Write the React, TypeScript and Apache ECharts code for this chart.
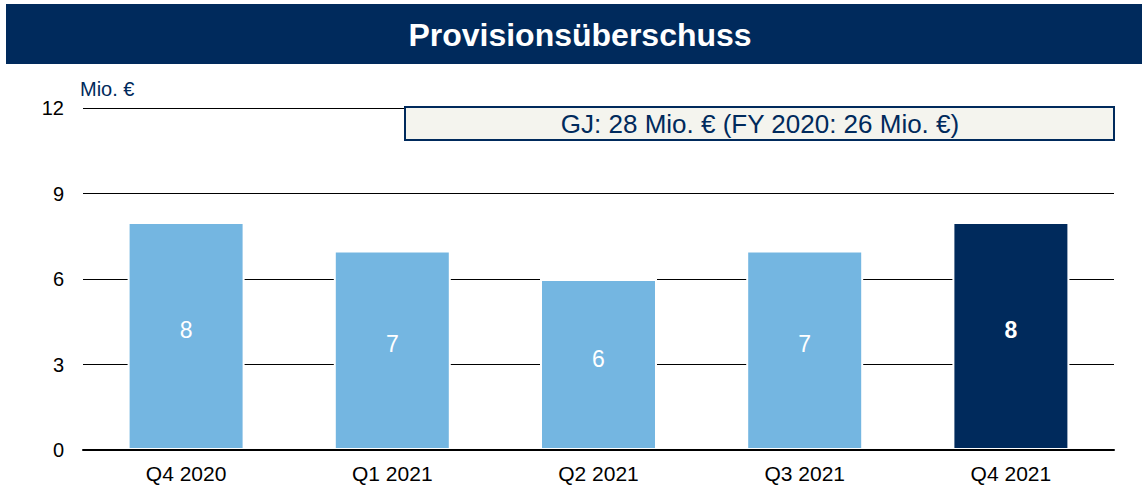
import React, { useEffect, useRef } from "react";
import * as echarts from "echarts";

const categories = ["Q4 2020", "Q1 2021", "Q2 2021", "Q3 2021", "Q4 2021"];
const values = [8, 7, 6, 7, 8];
const highlightIndex = 4;
const yTicks = [0, 3, 6, 9, 12];
const title = "Provisionsüberschuss";
const unitLabel = "Mio. €";
const boxText = "GJ: 28 Mio. € (FY 2020: 26 Mio. €)";

const NAVY = "#002A5C";
const LIGHT = "#74B6E1";
const FONT = "'Liberation Sans', Arial, Helvetica, sans-serif";

export default function App() {
  const ref = useRef<HTMLDivElement>(null);
  useEffect(() => {
    if (!ref.current) return;
    const chart = echarts.init(ref.current, null, { renderer: "svg" });
    chart.setOption({
      animation: false,
      textStyle: { fontFamily: FONT },
      grid: { left: 83, right: 28, top: 108, bottom: 38, containLabel: false },
      xAxis: {
        type: "category",
        data: categories,
        z: 10,
        axisLine: { show: true, lineStyle: { color: "#000", width: 2 } },
        axisTick: { show: false },
        axisLabel: { color: "#000", fontSize: 21, margin: 13, fontFamily: FONT },
      },
      yAxis: {
        type: "value",
        min: yTicks[0],
        max: yTicks[yTicks.length - 1],
        interval: 3,
        axisLine: { show: false },
        axisTick: { show: false },
        axisLabel: { color: "#000", fontSize: 20, margin: 19, fontFamily: FONT },
        splitLine: { show: true, lineStyle: { color: "#000", width: 1 } },
      },
      series: [
        {
          type: "bar",
          barWidth: 117,
          data: values.map((v, i) => ({
            value: v,
            itemStyle: { color: i === highlightIndex ? NAVY : LIGHT },
            label: i === highlightIndex ? { fontWeight: "bold" } : undefined,
          })),
          itemStyle: { borderColor: "#fff", borderWidth: 2 },
          label: {
            show: true,
            position: "inside",
            color: "#fff",
            fontSize: 23,
            fontFamily: FONT,
            offset: [0, -6],
          },
        },
      ],
      graphic: [
        {
          type: "rect",
          shape: { x: 6, y: 4, width: 1136, height: 60 },
          style: { fill: NAVY },
          z: 0,
        },
        {
          type: "text",
          x: 580,
          y: 35,
          style: {
            text: title,
            fill: "#fff",
            font: `bold 32px ${FONT}`,
            textAlign: "center",
            textVerticalAlign: "middle",
          },
          z: 1,
        },
        {
          type: "text",
          x: 80,
          y: 89,
          style: {
            text: unitLabel,
            fill: NAVY,
            font: `20px ${FONT}`,
            textAlign: "left",
            textVerticalAlign: "middle",
          },
        },
        {
          type: "rect",
          shape: { x: 405, y: 107, width: 709, height: 33 },
          style: { fill: "#F4F4EE", stroke: NAVY, lineWidth: 2 },
          z: 50,
        },
        {
          type: "text",
          x: 760,
          y: 124,
          style: {
            text: boxText,
            fill: NAVY,
            font: `26px ${FONT}`,
            textAlign: "center",
            textVerticalAlign: "middle",
          },
          z: 51,
        },
      ],
    });
    return () => chart.dispose();
  }, []);
  return (
    <div
      ref={ref}
      style={{ position: "fixed", left: 0, top: 0, width: 1142, height: 488, background: "#fff" }}
    />
  );
}
